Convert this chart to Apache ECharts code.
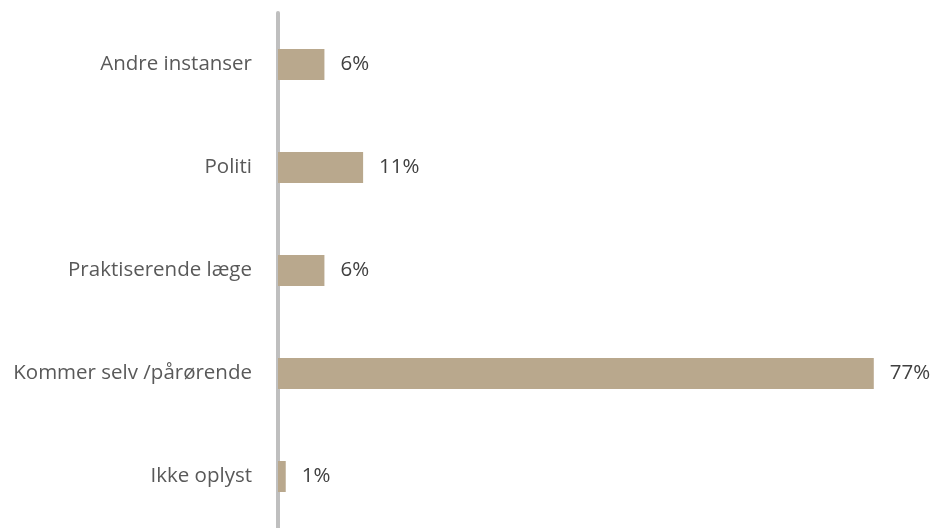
<!DOCTYPE html>
<html>
<head>
<meta charset="utf-8">
<script src="https://cdn.jsdelivr.net/npm/echarts@6/dist/echarts.min.js"></script>
<style>
  html, body { margin: 0; padding: 0; background: #fff; }
  #chart { width: 934px; height: 528px; }
</style>
</head>
<body>
<div id="chart"></div>
<script>
// Henvisningsvej, andel i procent (top to bottom as shown)
const categories = ['Andre instanser', 'Politi', 'Praktiserende læge', 'Kommer selv /pårørende', 'Ikke oplyst'];
const shares = [6, 11, 6, 77, 1];

const chart = echarts.init(document.getElementById('chart'));
const textFont = '"Open Sans", sans-serif';

chart.setOption({
  animation: false,
  grid: { left: 278, right: 37, top: 13, height: 522 },
  xAxis: {
    type: 'value',
    min: 0,
    max: 80,
    show: false
  },
  yAxis: {
    type: 'category',
    data: categories,
    inverse: true,
    offset: 2,
    axisLine: { show: true, lineStyle: { color: '#bfbfbf', width: 4 } },
    axisTick: { show: false },
    axisLabel: {
      margin: 24,
      color: '#595959',
      fontFamily: textFont,
      fontSize: 20.5
    }
  },
  series: [{
    type: 'bar',
    data: shares,
    barWidth: 31,
    itemStyle: { color: '#b9a88d' },
    label: {
      show: true,
      position: 'right',
      distance: 16,
      formatter: '{c}%',
      color: '#404040',
      fontFamily: textFont,
      fontSize: 20.5
    }
  }]
});
</script>
</body>
</html>
